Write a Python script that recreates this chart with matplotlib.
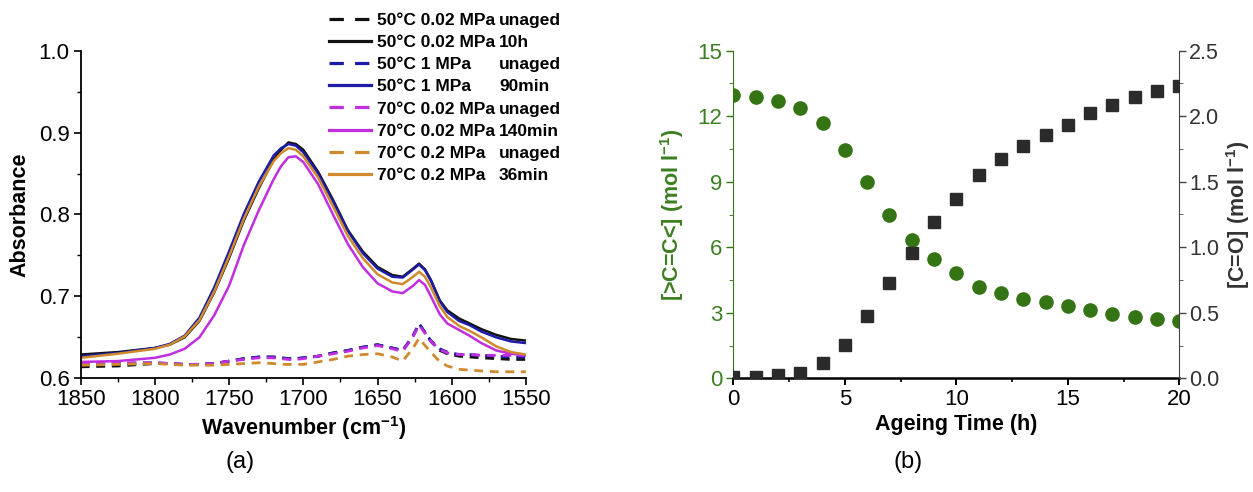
import numpy as np
import matplotlib
matplotlib.use('Agg')
import matplotlib.pyplot as plt
from matplotlib.lines import Line2D
from matplotlib.ticker import MultipleLocator

plt.rcParams['font.family'] = ['Liberation Sans', 'DejaVu Sans']
plt.rcParams['mathtext.fontset'] = 'custom'
plt.rcParams['mathtext.rm'] = 'Liberation Sans:bold'
plt.rcParams['mathtext.bf'] = 'Liberation Sans:bold'

# ---- (a) FTIR spectra ----
wn = [1850, 1825, 1800, 1790, 1780, 1770, 1760, 1750, 1740, 1730, 1720, 1715, 1710, 1705,
      1700, 1690, 1680, 1670, 1660, 1650, 1640, 1633, 1626, 1622, 1618, 1614, 1608, 1603,
      1595, 1588, 1580, 1570, 1560, 1550]

a50_002_unaged = [0.614, 0.615, 0.618, 0.618, 0.617, 0.617, 0.618, 0.621, 0.624, 0.626, 0.626, 0.625,
                  0.624, 0.624, 0.625, 0.627, 0.631, 0.634, 0.638, 0.641, 0.637, 0.634, 0.652, 0.666,
                  0.656, 0.645, 0.634, 0.630, 0.627, 0.626, 0.625, 0.624, 0.623, 0.623]
a50_002_10h = [0.629, 0.632, 0.637, 0.641, 0.650, 0.670, 0.705, 0.747, 0.793, 0.832, 0.867, 0.879,
               0.888, 0.886, 0.879, 0.852, 0.818, 0.781, 0.755, 0.736, 0.726, 0.724, 0.734, 0.740,
               0.733, 0.720, 0.695, 0.683, 0.673, 0.667, 0.660, 0.653, 0.648, 0.646]
a50_1_unaged = [0.618, 0.618, 0.619, 0.618, 0.617, 0.617, 0.618, 0.621, 0.624, 0.626, 0.626, 0.625,
                0.624, 0.624, 0.625, 0.627, 0.631, 0.634, 0.638, 0.641, 0.637, 0.634, 0.652, 0.667,
                0.656, 0.646, 0.636, 0.632, 0.629, 0.629, 0.628, 0.627, 0.626, 0.626]
a50_1_90 = [0.627, 0.631, 0.637, 0.642, 0.652, 0.674, 0.711, 0.755, 0.801, 0.840, 0.872, 0.881,
            0.886, 0.884, 0.876, 0.850, 0.816, 0.780, 0.753, 0.734, 0.724, 0.723, 0.733, 0.739,
            0.732, 0.719, 0.694, 0.681, 0.670, 0.665, 0.657, 0.650, 0.645, 0.643]
a70_002_unaged = [0.619, 0.619, 0.619, 0.618, 0.617, 0.617, 0.618, 0.621, 0.623, 0.625, 0.625, 0.624,
                  0.623, 0.623, 0.624, 0.627, 0.630, 0.633, 0.637, 0.640, 0.636, 0.633, 0.651, 0.665,
                  0.655, 0.645, 0.635, 0.631, 0.629, 0.629, 0.628, 0.628, 0.628, 0.628]
a70_002_140 = [0.620, 0.621, 0.625, 0.629, 0.636, 0.650, 0.677, 0.713, 0.763, 0.805, 0.843, 0.859,
               0.870, 0.871, 0.864, 0.837, 0.800, 0.764, 0.736, 0.716, 0.706, 0.704, 0.713, 0.720,
               0.714, 0.700, 0.678, 0.667, 0.659, 0.652, 0.643, 0.634, 0.630, 0.628]
a70_02_unaged = [0.616, 0.617, 0.618, 0.617, 0.616, 0.616, 0.616, 0.617, 0.618, 0.619, 0.618, 0.617,
                 0.617, 0.617, 0.617, 0.620, 0.623, 0.627, 0.629, 0.630, 0.626, 0.621, 0.637, 0.649,
                 0.640, 0.632, 0.620, 0.615, 0.611, 0.610, 0.609, 0.608, 0.608, 0.608]
a70_02_36 = [0.625, 0.630, 0.636, 0.641, 0.651, 0.671, 0.706, 0.749, 0.795, 0.834, 0.865, 0.875,
             0.881, 0.879, 0.871, 0.845, 0.810, 0.774, 0.747, 0.727, 0.717, 0.715, 0.724, 0.730,
             0.724, 0.711, 0.688, 0.675, 0.664, 0.658, 0.650, 0.639, 0.632, 0.629]

col1 = ['50°C 0.02 MPa', '50°C 0.02 MPa', '50°C 1 MPa', '50°C 1 MPa',
        '70°C 0.02 MPa', '70°C 0.02 MPa', '70°C 0.2 MPa', '70°C 0.2 MPa']
col2 = ['unaged', '10h', 'unaged', '90min', 'unaged', '140min', 'unaged', '36min']

# ---- (b) ageing kinetics ----
t_h = list(range(21))
cc_double = [12.97, 12.89, 12.71, 12.36, 11.67, 10.44, 8.99, 7.46, 6.33, 5.45, 4.81,
             4.20, 3.89, 3.63, 3.48, 3.31, 3.13, 2.95, 2.79, 2.70, 2.62]
c_o = [0.013, 0.013, 0.025, 0.043, 0.12, 0.254, 0.476, 0.73, 0.96, 1.19, 1.366,
       1.55, 1.676, 1.775, 1.86, 1.935, 2.027, 2.088, 2.144, 2.195, 2.233]

BLACK = '#111111'
BLUE = '#1c1ca8'
MAG = '#c02ee0'
ORA = '#cf8a2e'
GREEN = '#357414'
GTXT = '#3d7f22'

W, H = 1253, 492
fig = plt.figure(figsize=(W / 100, H / 100), dpi=100)
ax1 = fig.add_axes([80.7 / W, (H - 378.3) / H, 445.2 / W, 327.6 / H])
ax2 = fig.add_axes([733.3 / W, (H - 378.3) / H, 446 / W, 327.6 / H])

series = [(a50_002_unaged, BLACK, '--'), (a50_002_10h, BLACK, '-'),
          (a50_1_unaged, BLUE, '--'), (a50_1_90, BLUE, '-'),
          (a70_002_unaged, MAG, '--'), (a70_002_140, MAG, '-'),
          (a70_02_unaged, ORA, '--'), (a70_02_36, ORA, '-')]
handles = []
for y, c, ls in series:
    if ls == '--':
        ax1.plot(wn, y, color=c, lw=2.0, ls=(0, (3.2, 2.4)))
        handles.append(Line2D([], [], color=c, lw=2.3, ls=(0, (4.5, 3.5))))
    else:
        ax1.plot(wn, y, color=c, lw=1.8)
        handles.append(Line2D([], [], color=c, lw=2.3))

ax1.set_xlim(1850, 1550)
ax1.set_ylim(0.6, 1.0)
ax1.xaxis.set_major_locator(MultipleLocator(50))
ax1.xaxis.set_minor_locator(MultipleLocator(25))
ax1.yaxis.set_major_locator(MultipleLocator(0.1))
ax1.yaxis.set_minor_locator(MultipleLocator(0.05))
ax1.spines['top'].set_visible(False)
ax1.spines['right'].set_visible(False)
for s in ['left', 'bottom']:
    ax1.spines[s].set_linewidth(1.3)
ax1.tick_params(which='major', direction='out', length=5, width=1.2, labelsize=16, pad=3)
ax1.tick_params(which='minor', direction='out', length=3, width=1.0)
ax1.set_ylabel('Absorbance', fontsize=15.5, fontweight='bold')
ax1.yaxis.set_label_coords(-0.112, 0.5)
ax1.set_xlabel(r'Wavenumber (cm$^{-1}$)', fontsize=15.5, fontweight='bold')
ax1.xaxis.set_label_coords(0.5, -0.11)

leg = ax1.legend(handles, col1, loc='upper left', bbox_to_anchor=(329 / W, 1 - 13 / H),
                 bbox_transform=fig.transFigure, frameon=False, borderpad=0, borderaxespad=0,
                 handlelength=2.4, handletextpad=0.35, labelspacing=0.4,
                 prop={'weight': 'bold', 'size': 12.5})

# ---- right panel ----
ax3 = ax2.twinx()
ax2.plot(t_h, cc_double, 'o', color=GREEN, ms=9.5, mec=GREEN, zorder=3)
ax3.plot(t_h, c_o, 's', color='#2b2b2b', ms=8.5, zorder=3)
ax2.set_xlim(0, 20)
ax2.set_ylim(0, 15)
ax3.set_ylim(0, 2.5)
ax2.xaxis.set_major_locator(MultipleLocator(5))
ax2.xaxis.set_minor_locator(MultipleLocator(2.5))
ax2.yaxis.set_major_locator(MultipleLocator(3))
ax2.yaxis.set_minor_locator(MultipleLocator(1.5))
ax3.yaxis.set_major_locator(MultipleLocator(0.5))
ax3.yaxis.set_minor_locator(MultipleLocator(0.25))
ax3.yaxis.set_major_formatter(matplotlib.ticker.FormatStrFormatter('%.1f'))
for a in (ax2, ax3):
    a.spines['top'].set_visible(False)
ax2.spines['right'].set_visible(False)
ax2.spines['left'].set_color(GREEN)
ax2.spines['bottom'].set_linewidth(1.8)
ax3.spines['left'].set_visible(False)
ax3.spines['bottom'].set_visible(False)
ax3.spines['right'].set_color('#444444')
ax2.tick_params(axis='x', which='major', direction='out', length=5, width=1.4, labelsize=16, pad=3)
ax2.tick_params(axis='x', which='minor', direction='out', length=3, width=1.2)
ax2.tick_params(axis='y', which='major', direction='out', length=5, width=1.0, labelsize=16,
                colors=GREEN, labelcolor=GTXT, pad=3)
ax2.tick_params(axis='y', which='minor', direction='out', length=3, colors=GREEN)
ax3.tick_params(axis='y', which='major', direction='out', length=5, width=1.0, labelsize=15.5,
                colors='#444444', labelcolor='#333333', pad=2)
ax3.tick_params(axis='y', which='minor', direction='out', length=3, colors='#444444')
ax2.set_xlabel('Ageing Time (h)', fontsize=15.5, fontweight='bold')
ax2.xaxis.set_label_coords(0.5, -0.11)
ax2.set_ylabel(r'[>C=C<] (mol l$^{-1}$)', fontsize=15.5, fontweight='bold', color=GTXT)
ax2.yaxis.set_label_coords(-0.106, 0.5)
ax3.set_ylabel(r'[C=O] (mol l$^{-1}$)', fontsize=15.5, fontweight='bold', color='#333333')
ax3.yaxis.set_label_coords(1.10, 0.5)

fig.text(240 / W, 1 - 462 / H, '(a)', ha='center', va='center', fontsize=17)
fig.text(908 / W, 1 - 462 / H, '(b)', ha='center', va='center', fontsize=17)

# second legend column, aligned on the first
fig.canvas.draw()
for txt, lab in zip(leg.get_texts(), col2):
    bb = txt.get_window_extent()
    fig.text(499 / W, bb.y0 / H, lab, ha='left', va='bottom', fontsize=12.5, fontweight='bold')

fig.savefig('out.png', dpi=100)
